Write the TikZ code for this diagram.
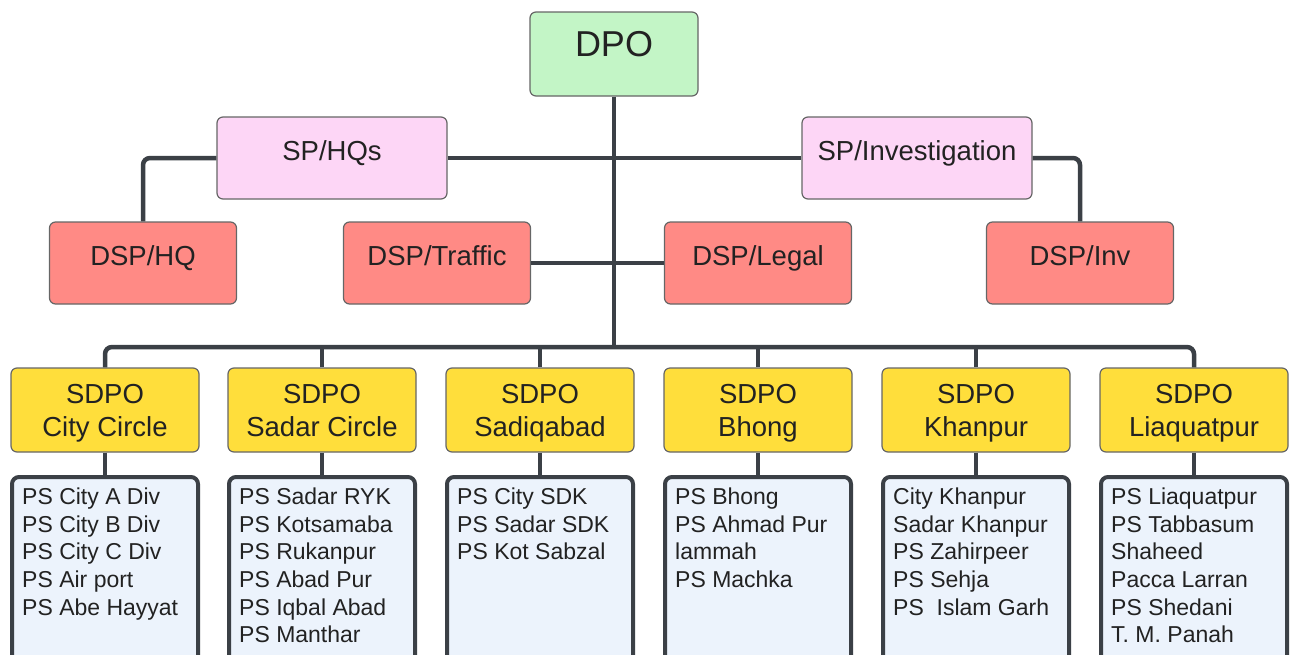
\documentclass[tikz,border=0pt]{standalone}
\usepackage{fontspec}
\setmainfont{Liberation Sans}
\usetikzlibrary{positioning}

\definecolor{dpogreen}{HTML}{C3F5C6}
\definecolor{sppink}{HTML}{FDD6F6}
\definecolor{dspred}{HTML}{FF8A85}
\definecolor{sdpoyellow}{HTML}{FFDE3B}
\definecolor{psblue}{HTML}{ECF3FC}
\definecolor{linkgray}{HTML}{3B4046}
\definecolor{inkdark}{HTML}{222222}

\tikzset{
  office/.style={draw=black!60, line width=1.2pt, rounded corners=6pt, text=inkdark,
    text height=0.72em, text depth=0.28em},
  dpobox/.style={office, fill=dpogreen, minimum width=168pt, minimum height=84pt,
    font=\fontsize{36}{40}\selectfont},
  spbox/.style={office, fill=sppink, minimum width=230pt, minimum height=82pt,
    font=\fontsize{27.5}{32}\selectfont},
  dspbox/.style={office, fill=dspred, minimum width=187pt, minimum height=82pt,
    font=\fontsize{27.5}{32}\selectfont},
  sdpobox/.style={draw=black!60, line width=1.2pt, rounded corners=6pt, text=inkdark,
    fill=sdpoyellow, minimum width=188pt, minimum height=84pt, align=center,
    font=\fontsize{27.5}{33}\selectfont},
  psbox/.style={draw=linkgray, line width=4pt, rounded corners=7pt, fill=psblue,
    minimum width=186pt, minimum height=220pt, anchor=north},
  pslist/.style={anchor=north west, align=left, inner sep=0pt, text=inkdark,
    font=\fontsize{23}{27.7}\selectfont},
  link/.style={draw=linkgray, line width=4.5pt, rounded corners=7pt},
}

\begin{document}
\begin{tikzpicture}[x=1pt, y=-1pt]
    \useasboundingbox (0,0) rectangle (1293,654);
    \clip (0,0) rectangle (1293,654);

    % Define offices
    \node[dpobox] (dpo) at (614,54) {DPO};
    \node[spbox] (sphq) at (332,158) {SP/HQs};
    \node[spbox] (spinv) at (917,158) {SP/Investigation};
    \node[dspbox] (dsphq) at (143,263) {DSP/HQ};
    \node[dspbox] (dsptraffic) at (437,263) {DSP/Traffic};
    \node[dspbox] (dsplegal) at (758,263) {DSP/Legal};
    \node[dspbox] (dspinv) at (1080,263) {DSP/Inv};
    \coordinate (bus) at (614,347);

    % Define circles
    \foreach \i/\x/\circ in {1/105/City Circle, 2/322/Sadar Circle, 3/540/Sadiqabad,
                             4/758/Bhong, 5/976/Khanpur, 6/1194/Liaquatpur} {
        \node[sdpobox] (sdpo\i) at (\x,410) {SDPO\\\smash{\circ}};
        \node[psbox] (ps\i) at (\x,475) {};
    }

    % Police stations
    \node[pslist] (list1) at ([xshift=12pt, yshift=-12.5pt]ps1.north west)
        {PS City A Div\\PS City B Div\\PS City C Div\\PS Air port\\PS Abe Hayyat};
    \node[pslist] (list2) at ([xshift=12pt, yshift=-12.5pt]ps2.north west)
        {PS Sadar RYK\\PS Kotsamaba\\PS Rukanpur\\PS Abad Pur\\PS Iqbal Abad\\PS Manthar};
    \node[pslist] (list3) at ([xshift=12pt, yshift=-12.5pt]ps3.north west)
        {PS City SDK\\PS Sadar SDK\\PS Kot Sabzal};
    \node[pslist] (list4) at ([xshift=12pt, yshift=-12.5pt]ps4.north west)
        {PS Bhong\\PS Ahmad Pur\\lammah\\PS Machka};
    \node[pslist] (list5) at ([xshift=12pt, yshift=-12.5pt]ps5.north west)
        {City Khanpur\\Sadar Khanpur\\PS Zahirpeer\\PS Sehja\\PS\ \ Islam Garh};
    \node[pslist] (list6) at ([xshift=12pt, yshift=-12.5pt]ps6.north west)
        {PS Liaquatpur\\PS Tabbasum\\Shaheed\\Pacca Larran\\PS Shedani\\T. M. Panah};

    % Draw links
    \draw[link] (dpo.south) -- (bus); % trunk
    \draw[link] (sphq.east) -- (sphq.east -| dpo.south);
    \draw[link] (spinv.west) -- (spinv.west -| dpo.south);
    \draw[link] (sphq.west) -| (dsphq.north);
    \draw[link] (spinv.east) -| (dspinv.north);
    \draw[link] (dsptraffic.east) -- (dsptraffic.east -| dpo.south);
    \draw[link] (dsplegal.west) -- (dsplegal.west -| dpo.south);
    \draw[link] (sdpo1.north) |- (bus) -| (sdpo6.north); % bus
    \foreach \i in {2,...,5}
        \draw[link] (sdpo\i.north) -- (sdpo\i.north |- bus);
    \foreach \i in {1,...,6}
        \draw[link] (sdpo\i.south) -- (ps\i.north);
\end{tikzpicture}
\end{document}
